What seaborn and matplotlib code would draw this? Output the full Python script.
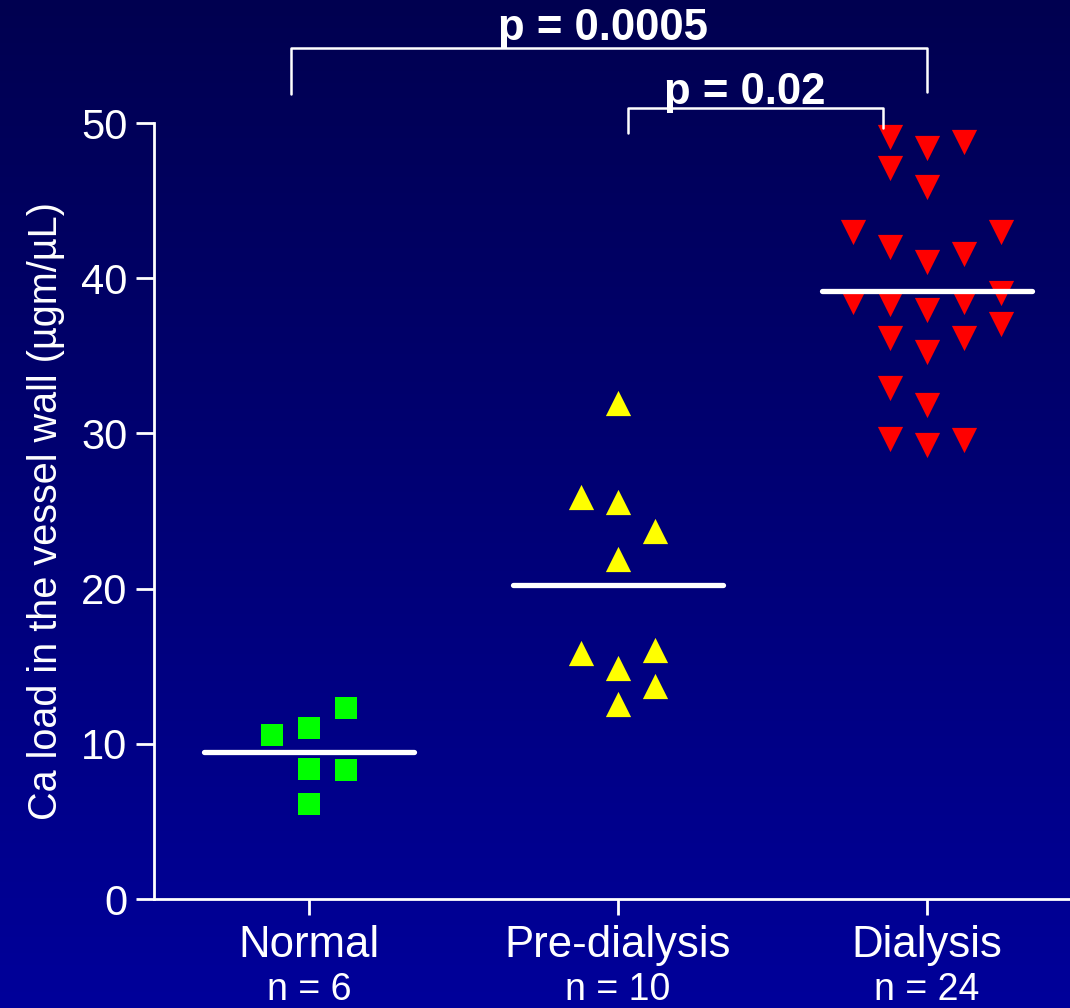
import numpy as np
import pandas as pd
import matplotlib
matplotlib.use("Agg")
import matplotlib.pyplot as plt
import matplotlib.transforms as mtransforms
from matplotlib.colors import LinearSegmentedColormap
import seaborn as sns

# ---------------- data ----------------
groups = ["Normal", "Pre-dialysis", "Dialysis"]
n_labels = ["n = 6", "n = 10", "n = 24"]
y_ticks = [0, 10, 20, 30, 40, 50]

normal_vals = [12.3, 10.6, 11.0, 8.4, 8.3, 6.1]
pre_vals = [31.95, 25.9, 25.6, 23.7, 21.9, 15.85, 16.05, 14.9, 13.75, 12.55]
dia_vals = [49.1, 48.4, 48.75, 47.1, 45.9, 43.0, 43.0, 42.0, 41.05, 41.55,
            39.05, 38.5, 38.35, 37.95, 38.5, 37.05, 36.15, 36.15, 35.25,
            32.95, 31.85, 29.65, 29.25, 29.55]

# horizontal dot-plot column slots (layout)
normal_slot = [1, -1, 0, 0, 1, 0]
pre_slot = [0, -1, 0, 1, 0, -1, 1, 0, 1, 0]
dia_slot = [-1, 0, 1, -1, 0, -2, 2, -1, 0, 1,
            2, -2, -1, 0, 1, 2, -1, 1, 0,
            -1, 0, -1, 0, 1]

p_labels = ["p = 0.0005", "p = 0.02"]

# ---------------- style ----------------
sns.set_theme(style="ticks")
plt.rcParams["font.family"] = ["Liberation Sans", "DejaVu Sans"]

colors = {"Normal": "#00ff00", "Pre-dialysis": "#ffff00", "Dialysis": "#ff0000"}
markers = {"Normal": "s", "Pre-dialysis": "^", "Dialysis": "v"}
msize = {"Normal": 272, "Pre-dialysis": 330, "Dialysis": 330}
SLOT = 0.12

frames = []
for g, vals, slots in [("Normal", normal_vals, normal_slot),
                       ("Pre-dialysis", pre_vals, pre_slot),
                       ("Dialysis", dia_vals, dia_slot)]:
    gi = groups.index(g)
    frames.append(pd.DataFrame({"group": g, "value": vals,
                                "x": [gi + s * SLOT for s in slots]}))
df = pd.concat(frames, ignore_index=True)

fig = plt.figure(figsize=(10.70, 10.08), dpi=100)

# gradient background
bg = fig.add_axes([0, 0, 1, 1], zorder=-10)
grad = np.linspace(0, 1, 256).reshape(-1, 1)
cmap = LinearSegmentedColormap.from_list("bg", ["#000050", "#00009a"])
bg.imshow(grad, aspect="auto", cmap=cmap, extent=[0, 1, 0, 1], origin="upper")
bg.set_axis_off()

ax = fig.add_axes([0.1439, 0.1081, 0.8561, 0.7698])
ax.set_facecolor("none")

for g in groups:
    sub = df[df["group"] == g]
    sns.scatterplot(data=sub, x="x", y="value", marker=markers[g],
                    color=colors[g], s=msize[g], linewidth=0, ax=ax,
                    zorder=3, legend=False)

# mean lines
for gi, g in enumerate(groups):
    m = df.loc[df["group"] == g, "value"].mean()
    ax.plot([gi - 0.34, gi + 0.34], [m, m], color="white", lw=3.8,
            solid_capstyle="round", zorder=4)

ax.set_xlim(-0.502, 2.463)
ax.set_ylim(0, 50)
ax.set_yticks(y_ticks)
ax.set_yticklabels([str(t) for t in y_ticks])
ax.set_xticks(range(len(groups)))
ax.set_xticklabels(groups)

for side in ["top", "right"]:
    ax.spines[side].set_visible(False)
for side in ["left", "bottom"]:
    ax.spines[side].set_color("white")
    ax.spines[side].set_linewidth(2.0)

ax.tick_params(axis="y", colors="white", labelsize=30, length=13, width=2.0, pad=6)
ax.tick_params(axis="x", colors="white", labelsize=31.5, length=11.5, width=2.0, pad=7)
ax.set_xlabel("")
ax.set_ylabel("Ca load in the vessel wall (\u00b5gm/\u00b5L)", color="white",
              fontsize=28.5, labelpad=12)

# n labels under category names
trans = mtransforms.blended_transform_factory(ax.transData, ax.transAxes)
for gi, lab in enumerate(n_labels):
    ax.text(gi, -0.130, lab, transform=trans, ha="center", va="baseline",
            color="white", fontsize=27)

# significance brackets
bk = dict(color="white", lw=1.8, clip_on=False, zorder=5)
ax.plot([-0.06, -0.06, 2.0, 2.0], [51.87, 54.83, 54.83, 52.0], **bk)
ax.plot([1.032, 1.032, 1.858, 1.858], [49.36, 50.97, 50.97, 49.68], **bk)
ax.text(0.951, 55.35, p_labels[0], ha="center", va="baseline", color="white",
        fontsize=31.5, fontweight="bold", clip_on=False, zorder=6)
ax.text(1.411, 51.25, p_labels[1], ha="center", va="baseline", color="white",
        fontsize=31.5, fontweight="bold", clip_on=False, zorder=6)

fig.savefig("out.png", dpi=100)
